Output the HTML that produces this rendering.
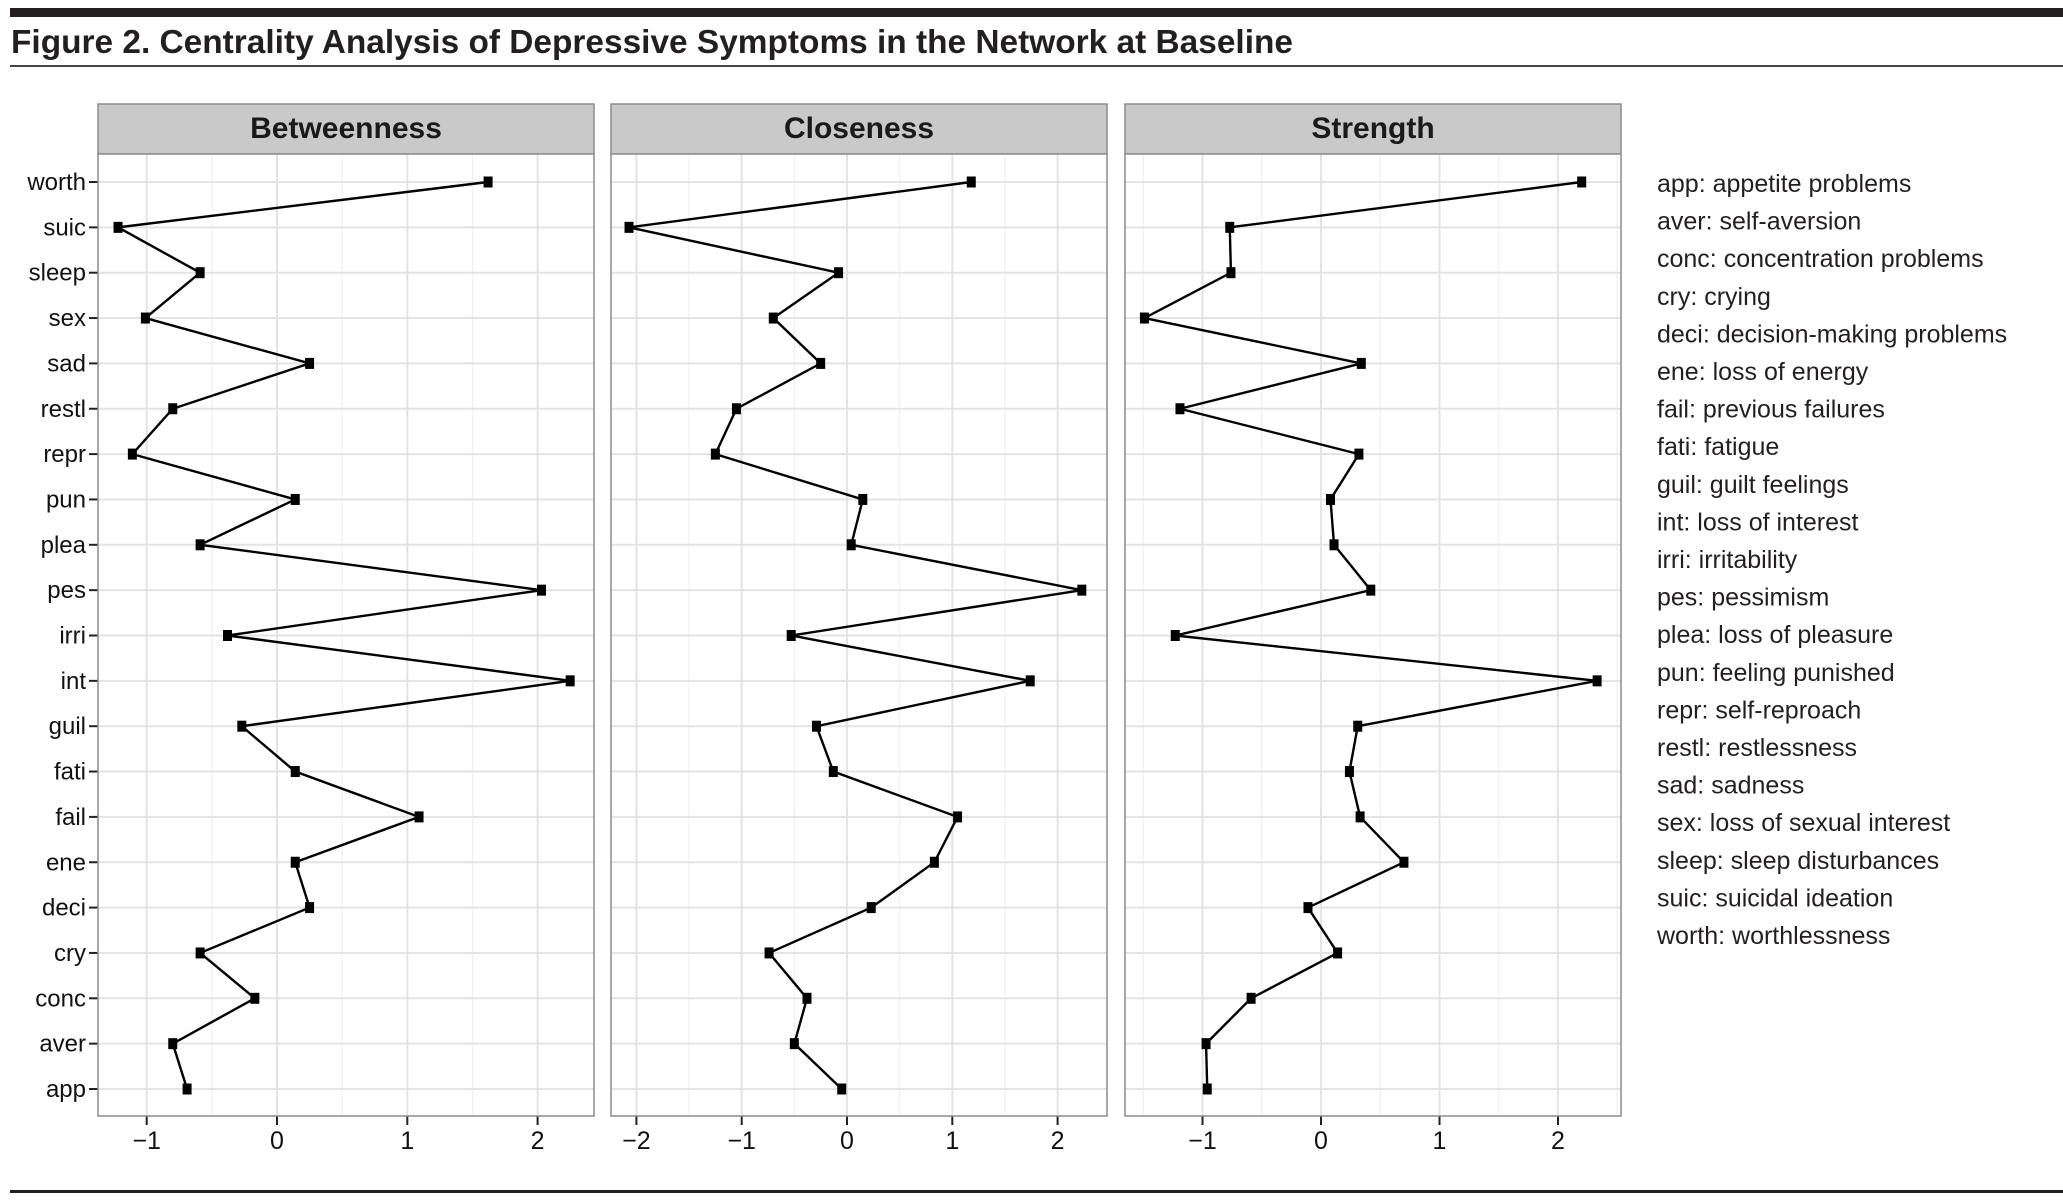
<!DOCTYPE html>
<html><head><meta charset="utf-8"><style>
html,body{margin:0;padding:0;background:#fff;}
svg{display:block;font-family:"Liberation Sans",sans-serif;}
</style></head><body>
<svg id="fig" width="2063" height="1203" viewBox="0 0 2063 1203" xmlns="http://www.w3.org/2000/svg">
<rect x="10" y="8" width="2053" height="9" fill="#231f20"/>
<text x="11" y="53" font-size="33" font-weight="bold" fill="#231f20" textLength="1282" lengthAdjust="spacingAndGlyphs">Figure 2. Centrality Analysis of Depressive Symptoms in the Network at Baseline</text>
<rect x="10" y="65" width="2053" height="2" fill="#444"/>
<rect x="10" y="1190" width="2053" height="3" fill="#231f20"/>
<g id="panels"></g>
<g id="legend"></g>
</svg>
<script>
const symptoms = ["worth","suic","sleep","sex","sad","restl","repr","pun","plea","pes","irri","int","guil","fati","fail","ene","deci","cry","conc","aver","app"];
const betweenness = [1.62,-1.22,-0.59,-1.01,0.25,-0.80,-1.11,0.14,-0.59,2.03,-0.38,2.25,-0.27,0.14,1.09,0.14,0.25,-0.59,-0.17,-0.80,-0.69];
const closeness = [1.18,-2.07,-0.08,-0.70,-0.25,-1.05,-1.25,0.15,0.04,2.23,-0.53,1.74,-0.29,-0.13,1.05,0.83,0.23,-0.74,-0.38,-0.50,-0.05];
const strength = [2.20,-0.77,-0.76,-1.49,0.34,-1.19,0.32,0.08,0.11,0.42,-1.23,2.33,0.31,0.24,0.33,0.70,-0.11,0.14,-0.59,-0.97,-0.96];
const panelTitles = ["Betweenness","Closeness","Strength"];
const ticksB = [-1,0,1,2];
const ticksC = [-2,-1,0,1,2];
const ticksS = [-1,0,1,2];
const legendLabels = ["app: appetite problems","aver: self-aversion","conc: concentration problems","cry: crying","deci: decision-making problems","ene: loss of energy","fail: previous failures","fati: fatigue","guil: guilt feelings","int: loss of interest","irri: irritability","pes: pessimism","plea: loss of pleasure","pun: feeling punished","repr: self-reproach","restl: restlessness","sad: sadness","sex: loss of sexual interest","sleep: sleep disturbances","suic: suicidal ideation","worth: worthlessness"];

const NS="http://www.w3.org/2000/svg";
function mk(tag,attrs,parent){const e=document.createElementNS(NS,tag);for(const k in attrs)e.setAttribute(k,attrs[k]);parent.appendChild(e);return e;}
const panelsG=document.getElementById('panels');
const panelDefs=[
 {x0:98,x1:594,zero:277,unit:130.3,vals:betweenness,ticks:ticksB},
 {x0:611,x1:1107,zero:847,unit:105.3,vals:closeness,ticks:ticksC},
 {x0:1125,x1:1621,zero:1321,unit:118.5,vals:strength,ticks:ticksS}
];
const pTop=154,pBottom=1116,stripTop=104;
const yRow=i=>182+i*45.35;
panelDefs.forEach((p,pi)=>{
  const xs=v=>p.zero+v*p.unit;
  const g=mk('g',{},panelsG);
  
  
  const strip=mk('rect',{x:p.x0,y:stripTop,width:p.x1-p.x0,height:pTop-stripTop,fill:'#c9c9c9',stroke:'#8c8c8c','stroke-width':1.5},g);
  
  
  const st=mk('text',{x:(p.x0+p.x1)/2,y:138,'font-size':30,'font-weight':'bold','text-anchor':'middle',fill:'#1a1a1a'},g);
  st.textContent=panelTitles[pi];
  
  
  mk('rect',{x:p.x0,y:pTop,width:p.x1-p.x0,height:pBottom-pTop,fill:'#fff'},g);
  for(let t=p.ticks[0]-0.5;t<=p.ticks[p.ticks.length-1]+0.5;t+=1){
    const x=xs(t); if(x>p.x0&&x<p.x1) mk('line',{x1:x,x2:x,y1:pTop,y2:pBottom,stroke:'#f0f0f0','stroke-width':1.2},g);
  }
  p.ticks.forEach(t=>{
    const x=xs(t);
    mk('line',{x1:x,x2:x,y1:pTop,y2:pBottom,stroke:'#e3e3e3','stroke-width':2},g);
    mk('line',{x1:x,x2:x,y1:pBottom,y2:pBottom+9,stroke:'#222','stroke-width':2},g);
    const tl=mk('text',{x:x,y:1149,'font-size':25,'text-anchor':'middle',fill:'#111'},g);
    tl.textContent=t<0?'\u2212'+Math.abs(t):String(t);
    
    
  });
  symptoms.forEach((s,i)=>{
    const y=yRow(i);
    mk('line',{x1:p.x0,x2:p.x1,y1:y,y2:y,stroke:'#e3e3e3','stroke-width':2},g);
    if(pi===0){
      mk('line',{x1:p.x0-9,x2:p.x0,y1:y,y2:y,stroke:'#222','stroke-width':2},g);
      const yl=mk('text',{x:p.x0-12,y:y+8,'font-size':24,'text-anchor':'end',fill:'#111'},g);
      yl.textContent=s;
      
      
    }
  });
  mk('rect',{x:p.x0,y:pTop,width:p.x1-p.x0,height:pBottom-pTop,fill:'none',stroke:'#8c8c8c','stroke-width':1.5},g);
  const pts=p.vals.map((v,i)=>xs(v)+','+yRow(i)).join(' ');
  const line=mk('polyline',{points:pts,fill:'none',stroke:'#000','stroke-width':2.4},g);
  
  
  p.vals.forEach((v,i)=>{
    const r=mk('rect',{x:xs(v)-4.5,y:yRow(i)-5.5,width:9,height:11,fill:'#000'},g);
    
    
  });
});
const lg=document.getElementById('legend');


legendLabels.forEach((l,i)=>{
  const t=mk('text',{x:1657,y:192+i*37.6,'font-size':25,fill:'#231f20'},lg);
  t.textContent=l;
  
  
});
</script>
</body></html>
